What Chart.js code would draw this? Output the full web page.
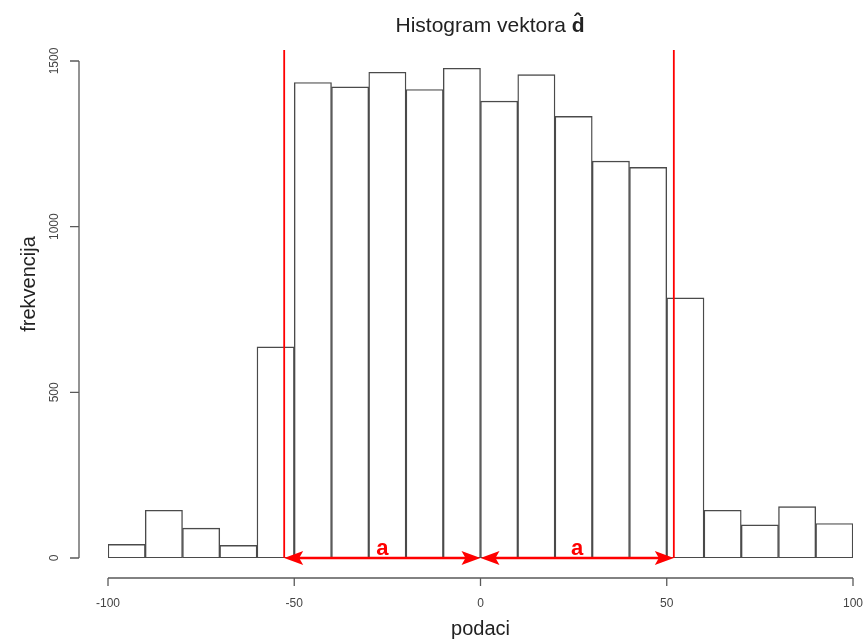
<!DOCTYPE html>
<html>
<head>
<meta charset="utf-8">
<script src="https://cdn.jsdelivr.net/npm/chart.js@4.4.0/dist/chart.umd.min.js"></script>
<style>
  html, body { margin: 0; padding: 0; background: #fff; }
  #wrap { width: 865px; height: 639px; }
</style>
</head>
<body>
<div id="wrap"><canvas id="hist" width="865" height="639"></canvas></div>
<script>
// Histogram vektora d - bins of width 10, counts
const binStarts = [-100, -90, -80, -70, -60, -50, -40, -30, -20, -10, 0, 10, 20, 30, 40, 50, 60, 70, 80, 90];
const counts = [41, 144, 90, 38, 637, 1435, 1422, 1466, 1414, 1478, 1379, 1459, 1333, 1198, 1179, 785, 144, 100, 155, 104];
const binWidth = 10;

const xTicks = [-100, -50, 0, 50, 100];
const yTicks = [0, 500, 1000, 1500];

// red limits and the two "a" spans
const limitLines = [-52.7, 51.9];
const limitTop = 1533;
const arrowSpans = [[-52.7, 0], [0, 51.9]];
const spanLabel = 'a';

const titleText = 'Histogram vektora ';
const titleSymbol = 'd\u0302';
const xTitle = 'podaci';
const yTitle = 'frekvencija';

const FONT = '"Liberation Sans", Arial, sans-serif';
const AXIS_COLOR = '#5a5a5a';

function arrowHead(ctx, tipX, tipY, dir) {
    const len = 19, half = 7, notch = 4;
    ctx.beginPath();
    ctx.moveTo(tipX, tipY);
    ctx.lineTo(tipX - dir * len, tipY - half);
    ctx.lineTo(tipX - dir * (len - notch), tipY);
    ctx.lineTo(tipX - dir * len, tipY + half);
    ctx.closePath();
    ctx.fill();
}

// R style axes, titles and the red annotations
const rDecor = {
    id: 'rDecor',
    afterDraw(chart) {
        const { ctx, scales: { x, y } } = chart;
        ctx.save();

        // x axis, detached below the bars
        const axY = y.getPixelForValue(0) + 20;
        ctx.strokeStyle = AXIS_COLOR;
        ctx.lineWidth = 1.3;
        ctx.beginPath();
        ctx.moveTo(x.getPixelForValue(xTicks[0]), axY);
        ctx.lineTo(x.getPixelForValue(xTicks[xTicks.length - 1]), axY);
        x.ticks.forEach(t => {
            const px = x.getPixelForValue(t.value);
            ctx.moveTo(px, axY);
            ctx.lineTo(px, axY + 8);
        });
        ctx.stroke();

        // y axis, detached left of the bars
        const axX = x.getPixelForValue(-100) - 29;
        ctx.beginPath();
        ctx.moveTo(axX, y.getPixelForValue(yTicks[0]));
        ctx.lineTo(axX, y.getPixelForValue(yTicks[yTicks.length - 1]));
        y.ticks.forEach(t => {
            const py = y.getPixelForValue(t.value);
            ctx.moveTo(axX, py);
            ctx.lineTo(axX - 9, py);
        });
        ctx.stroke();

        // red limit lines
        ctx.strokeStyle = '#ff0000';
        ctx.fillStyle = '#ff0000';
        ctx.lineWidth = 1.8;
        limitLines.forEach(v => {
            const px = x.getPixelForValue(v);
            ctx.beginPath();
            ctx.moveTo(px, y.getPixelForValue(limitTop));
            ctx.lineTo(px, y.getPixelForValue(0));
            ctx.stroke();
        });

        // double arrows with labels
        const baseY = y.getPixelForValue(0);
        ctx.lineWidth = 2.5;
        ctx.font = 'bold 22px ' + FONT;
        ctx.textAlign = 'center';
        ctx.textBaseline = 'alphabetic';
        arrowSpans.forEach(([a, b]) => {
            const x1 = x.getPixelForValue(a), x2 = x.getPixelForValue(b);
            ctx.beginPath();
            ctx.moveTo(x1 + 8, baseY);
            ctx.lineTo(x2 - 8, baseY);
            ctx.stroke();
            arrowHead(ctx, x1, baseY, -1);
            arrowHead(ctx, x2, baseY, 1);
            ctx.fillText(spanLabel, (x1 + x2) / 2, baseY - 3);
        });

        // main title with bold d-hat
        ctx.fillStyle = '#222';
        ctx.font = '21px ' + FONT;
        const w1 = ctx.measureText(titleText).width;
        ctx.font = 'bold 21px ' + FONT;
        const w2 = ctx.measureText(titleSymbol).width;
        const tx = 490 - (w1 + w2) / 2;
        ctx.textAlign = 'left';
        ctx.font = '21px ' + FONT;
        ctx.fillText(titleText, tx, 32);
        ctx.font = 'bold 21px ' + FONT;
        ctx.fillText(titleSymbol, tx + w1, 32);

        // axis titles
        ctx.font = '20px ' + FONT;
        ctx.textAlign = 'center';
        ctx.fillText(xTitle, (x.left + x.right) / 2, 635);
        ctx.save();
        ctx.translate(35, 284);
        ctx.rotate(-Math.PI / 2);
        ctx.fillText(yTitle, 0, 0);
        ctx.restore();

        ctx.restore();
    }
};

new Chart(document.getElementById('hist'), {
    type: 'bar',
    data: {
        datasets: [{
            label: 'frekvencija',
            data: binStarts.map((s, i) => ({ x: s + binWidth / 2, y: counts[i] })),
            backgroundColor: '#ffffff',
            borderColor: '#4a4a4a',
            borderWidth: 1.4,
            borderSkipped: false,
            barPercentage: 1,
            categoryPercentage: 1
        }]
    },
    options: {
        responsive: false,
        animation: false,
        layout: { autoPadding: false, padding: { top: 61, right: 12, left: 0, bottom: 0 } },
        plugins: {
            legend: { display: false },
            tooltip: { enabled: false }
        },
        scales: {
            x: {
                type: 'linear',
                offset: false,
                min: -100,
                max: 100,
                grid: { display: false, drawTicks: false },
                border: { display: false },
                afterBuildTicks: s => { s.ticks = xTicks.map(v => ({ value: v })); },
                afterFit: s => { s.height = 81; s.paddingLeft = 0; s.paddingRight = 0; },
                ticks: {
                    color: '#444',
                    padding: 38,
                    maxRotation: 0,
                    font: { size: 12, family: FONT },
                    callback: v => String(v)
                }
            },
            y: {
                min: 0,
                max: 1500,
                grid: { display: false, drawTicks: false },
                border: { display: false },
                afterBuildTicks: s => { s.ticks = yTicks.map(v => ({ value: v })); },
                afterFit: s => { s.width = 108; s.paddingTop = 0; s.paddingBottom = 0; },
                ticks: {
                    color: '#444',
                    padding: 40,
                    minRotation: 90,
                    maxRotation: 90,
                    crossAlign: 'center',
                    font: { size: 12, family: FONT },
                    callback: v => String(v)
                }
            }
        }
    },
    plugins: [rDecor]
});
</script>
</body>
</html>
